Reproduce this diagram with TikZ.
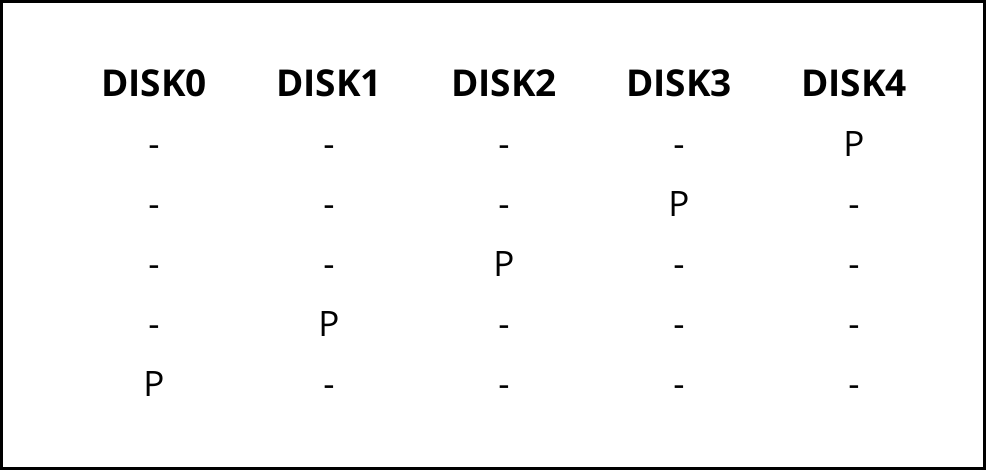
\documentclass[tikz,border=0pt]{standalone}
\usepackage{fontspec}
\setmainfont{Open Sans}
\begin{document}
\begin{tikzpicture}[x=1pt,y=-1pt,
  hdr/.style={font=\fontsize{37}{40}\selectfont\bfseries, anchor=base},
  cell/.style={font=\fontsize{35}{40}\selectfont, anchor=base}]
\useasboundingbox (0,0) rectangle (986,470);
\draw[line width=3pt] (1.5,1.5) rectangle (984.5,468.5);
\foreach \i in {0,...,4} {
  \node[hdr] (h\i) at (154+175*\i, 97) {DISK\i};
}
\foreach \r in {1,...,5} {
  \foreach \c in {0,...,4} {
    \pgfmathtruncatemacro{\pc}{5-\r}
    \ifnum\c=\pc
      \node[cell] (c\r\c) at (154+175*\c, 97+60*\r) {P};
    \else
      \node[cell] (c\r\c) at (154+175*\c, 97+60*\r) {-};
    \fi
  }
}
\end{tikzpicture}
\end{document}
